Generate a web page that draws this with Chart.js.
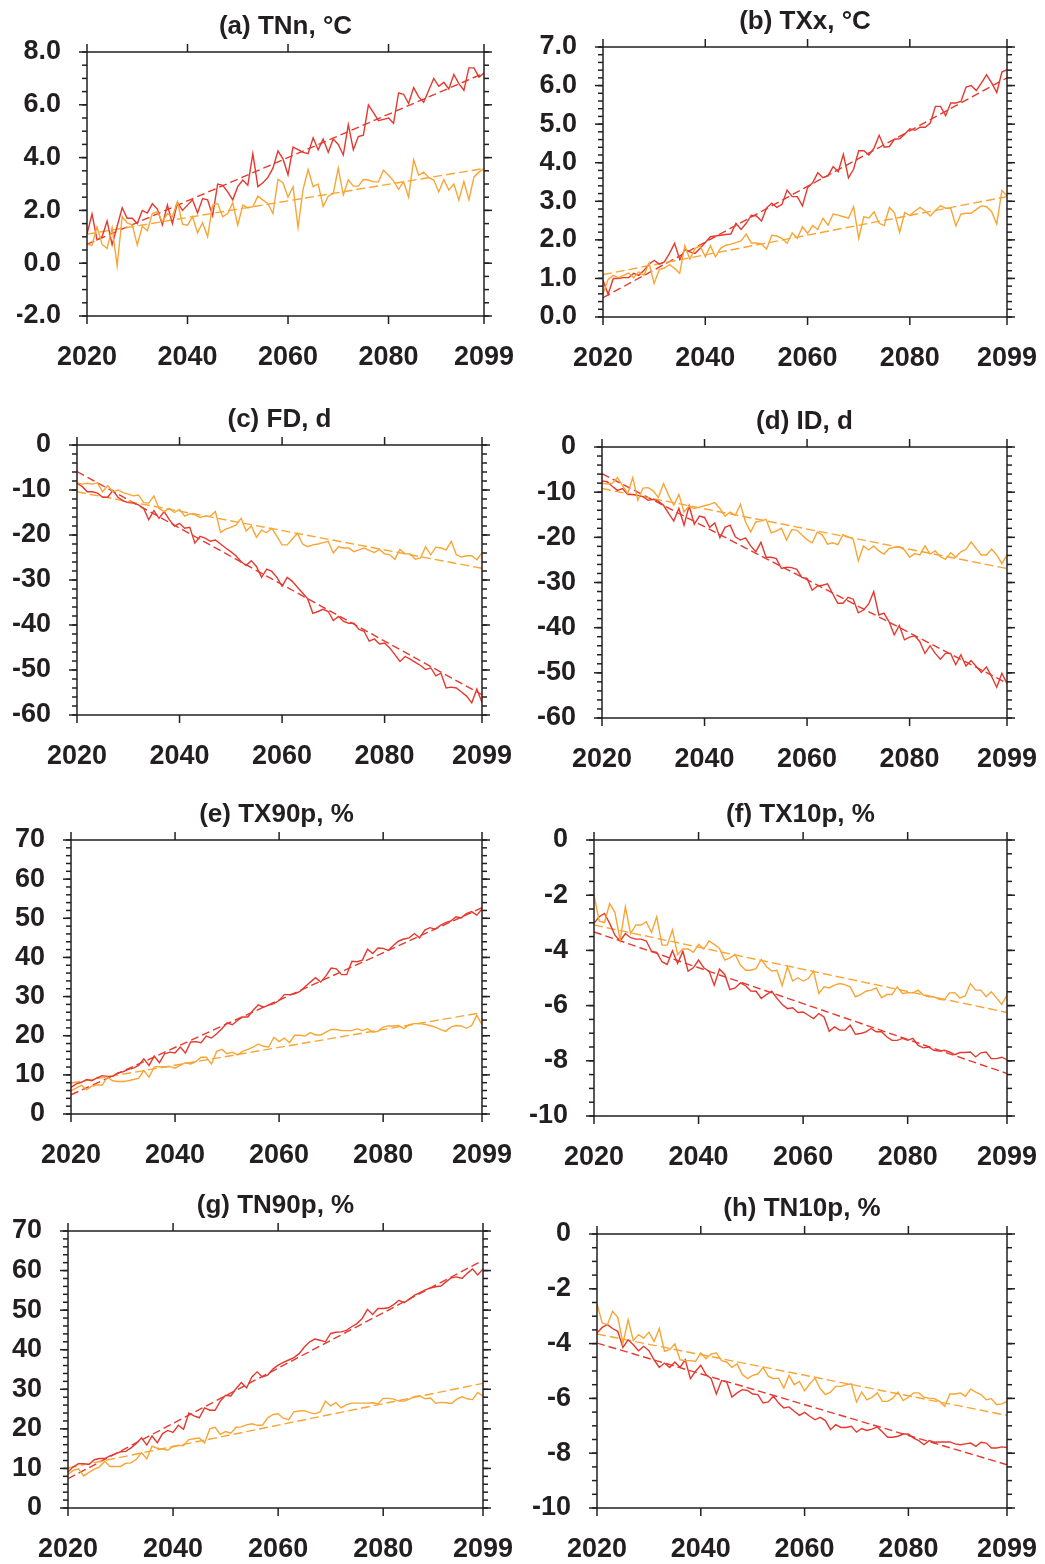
<!DOCTYPE html>
<html>
<head>
<meta charset="utf-8">
<script src="https://cdn.jsdelivr.net/npm/chart.js@4.4.1/dist/chart.umd.min.js"></script>
<style>
  html, body { margin: 0; padding: 0; background: #ffffff; }
  body { width: 1045px; height: 1564px; position: relative; overflow: hidden; }
  .panel { position: absolute; }
  canvas { display: block; }
</style>
</head>
<body>
<div id="root"></div>
<script>
// ---------------- DATA ----------------
const years = [2020,2021,2022,2023,2024,2025,2026,2027,2028,2029,
  2030,2031,2032,2033,2034,2035,2036,2037,2038,2039,
  2040,2041,2042,2043,2044,2045,2046,2047,2048,2049,
  2050,2051,2052,2053,2054,2055,2056,2057,2058,2059,
  2060,2061,2062,2063,2064,2065,2066,2067,2068,2069,
  2070,2071,2072,2073,2074,2075,2076,2077,2078,2079,
  2080,2081,2082,2083,2084,2085,2086,2087,2088,2089,
  2090,2091,2092,2093,2094,2095,2096,2097,2098,2099];
const xTickValues = [2020, 2040, 2060, 2080, 2099];

const titles = ["(a) TNn, \u00B0C", "(b) TXx, \u00B0C", "(c) FD, d", "(d) ID, d",
                "(e) TX90p, %", "(f) TX10p, %", "(g) TN90p, %", "(h) TN10p, %"];

// (a) TNn
const aRed = [1.1,1.86,0.88,1.0,1.6,0.7,1.4,2.1,1.7,1.7,
  1.5,2.0,1.9,2.25,2.05,1.45,2.2,1.5,2.3,2.0,
  2.2,2.4,1.9,2.45,2.4,1.8,3.0,2.95,2.7,2.4,
  2.9,3.15,2.95,4.15,2.9,3.05,3.25,3.6,4.25,3.95,
  3.35,4.4,4.3,4.2,4.15,4.75,4.3,4.7,4.2,4.7,
  4.5,4.1,5.25,4.3,4.8,4.85,6.0,5.7,5.4,5.45,
  5.5,5.3,6.45,6.4,6.05,6.65,6.3,6.1,6.55,7.0,
  6.7,6.85,6.6,7.15,6.8,6.55,7.4,7.4,7.05,7.2];
const aOrange = [0.72,0.68,1.38,0.71,0.56,1.35,-0.1,1.76,1.53,1.45,
  0.69,1.4,1.23,1.88,1.95,1.57,1.88,1.76,2.33,1.48,
  1.44,1.76,1.15,1.53,1.0,2.2,2.26,1.76,1.88,2.29,
  1.44,2.2,2.1,2.14,2.54,2.39,2.26,1.88,3.17,3.05,
  2.5,2.9,1.35,2.8,3.55,2.9,3.0,2.15,2.54,2.64,
  3.6,2.58,3.15,2.92,2.92,3.17,3.15,3.08,3.08,3.52,
  3.33,3.12,2.8,3.08,2.5,3.92,3.33,3.45,3.24,3.15,
  2.7,3.17,2.77,3.0,2.39,3.1,2.4,3.27,3.45,3.58];
const aRedTrend = [0.72, 7.2];
const aOrangeTrend = [1.1, 3.59];
const aYTicks = [-2, 0, 2, 4, 6, 8];

// (b) TXx
const bRed = [0.95,0.59,1.0,1.0,1.02,1.02,1.13,1.08,1.21,1.37,
  1.47,1.37,1.43,1.65,1.91,1.49,1.75,1.69,1.65,1.78,
  1.93,2.08,2.1,2.12,2.14,2.15,2.43,2.27,2.43,2.64,
  2.62,2.49,2.83,2.95,2.84,2.92,3.29,3.12,3.12,2.88,
  3.35,3.48,3.74,3.61,3.66,3.9,3.77,4.22,3.61,3.83,
  4.31,4.31,4.2,4.38,4.71,4.4,4.42,4.61,4.62,4.74,
  4.88,4.84,4.92,4.92,5.03,5.46,5.46,5.22,5.55,5.55,
  5.59,5.96,6.0,5.87,6.07,6.28,6.07,5.82,6.35,6.41];
const bOrange = [0.6,0.97,1.08,1.02,1.08,1.14,1.02,1.17,1.08,1.4,
  0.87,1.23,1.27,1.36,1.26,1.13,1.85,1.5,1.78,1.84,
  1.56,1.85,1.56,1.78,1.86,1.89,1.93,1.97,2.15,1.92,
  1.92,1.89,1.76,2.12,2.1,2.04,1.91,2.18,2.04,2.34,
  2.17,2.37,2.27,2.56,2.38,2.67,2.64,2.6,2.56,2.86,
  2.04,2.6,2.57,2.73,2.43,2.37,2.84,2.7,2.19,2.71,
  2.63,2.75,2.84,2.75,2.62,2.76,2.89,2.82,2.82,2.36,
  2.67,2.69,2.69,2.79,2.88,2.86,2.73,2.41,3.28,3.14];
const bRedTrend = [0.5, 6.2];
const bOrangeTrend = [1.1, 3.12];
const bYTicks = [0, 1, 2, 3, 4, 5, 6, 7];

// (c) FD
const cRed = [-8.5,-9.2,-10.4,-10.4,-10.7,-11.6,-11.6,-10.1,-11.6,-12.4,
  -12.8,-12.9,-13.3,-14.1,-16.6,-14.6,-16.3,-14.8,-16.6,-18.0,
  -17.4,-18.5,-18.3,-21.8,-20.3,-20.7,-21.4,-21.1,-22.0,-22.9,
  -23.7,-24.6,-25.9,-26.8,-25.7,-27.0,-29.4,-27.6,-28.1,-29.4,
  -31.4,-29.4,-30.3,-31.6,-32.9,-34.2,-37.4,-37.0,-36.5,-37.0,
  -39.0,-38.1,-39.2,-39.6,-39.6,-41.0,-41.4,-43.6,-43.1,-44.2,
  -44.0,-45.1,-46.6,-48.1,-47.0,-47.6,-48.3,-49.0,-49.9,-49.5,
  -51.3,-50.7,-54.0,-53.8,-54.0,-54.9,-55.8,-57.3,-54.2,-57.2];
const cOrange = [-8.4,-8.7,-8.5,-8.7,-8.4,-10.4,-9.0,-10.4,-10.0,-10.6,
  -10.9,-11.3,-11.1,-12.8,-12.9,-11.3,-14.1,-14.8,-14.1,-15.0,
  -14.3,-15.8,-15.3,-15.5,-16.1,-15.8,-15.8,-14.8,-19.4,-18.7,
  -18.3,-17.8,-16.3,-19.1,-18.0,-20.5,-18.9,-19.5,-18.5,-20.3,
  -22.2,-22.2,-20.9,-19.6,-22.0,-22.6,-22.2,-22.0,-21.7,-21.4,
  -24.0,-22.6,-22.9,-22.9,-23.7,-23.3,-22.9,-23.4,-23.9,-23.2,
  -24.2,-24.4,-25.4,-23.2,-24.2,-24.2,-25.4,-25.1,-22.6,-24.4,
  -22.7,-22.9,-23.3,-21.4,-24.4,-24.9,-24.6,-24.6,-25.5,-23.9];
const cRedTrend = [-5.9, -55.5];
const cOrangeTrend = [-10.4, -27.4];
const cYTicks = [-60, -50, -40, -30, -20, -10, 0];

// (d) ID
const dRed = [-7.5,-7.7,-8.7,-9.6,-9.2,-10.5,-10.5,-10.7,-11.0,-11.8,
  -11.6,-12.0,-12.9,-14.7,-16.4,-13.6,-17.3,-13.0,-17.1,-15.3,
  -15.6,-17.8,-16.8,-20.1,-17.8,-17.3,-19.9,-20.6,-20.1,-21.9,
  -23.2,-21.1,-24.4,-24.4,-24.7,-26.9,-26.6,-26.7,-27.1,-28.9,
  -29.1,-31.7,-30.8,-30.6,-30.3,-32.5,-34.6,-34.6,-33.3,-33.7,
  -36.7,-36.1,-34.8,-32.0,-37.2,-36.8,-38.7,-41.6,-39.5,-42.7,
  -42.1,-41.8,-43.1,-45.7,-44.0,-45.7,-47.0,-45.7,-45.7,-48.2,
  -46.0,-48.5,-47.3,-48.6,-49.9,-48.7,-50.8,-53.2,-50.1,-52.4];
const dOrange = [-8.0,-8.2,-8.0,-6.8,-8.5,-10.3,-6.8,-11.8,-9.1,-9.0,
  -9.7,-11.2,-8.1,-10.7,-12.9,-10.5,-14.4,-13.1,-13.6,-13.3,
  -13.0,-12.7,-12.3,-13.6,-15.3,-14.4,-15.1,-12.7,-16.6,-18.8,
  -16.6,-16.4,-16.0,-19.0,-18.6,-18.0,-20.6,-18.3,-18.4,-19.5,
  -20.5,-21.2,-18.8,-19.5,-21.5,-21.2,-21.6,-19.4,-19.9,-20.4,
  -25.2,-21.9,-22.8,-21.9,-23.0,-23.7,-22.5,-22.2,-22.1,-22.8,
  -24.4,-23.6,-23.9,-21.9,-23.7,-23.0,-24.3,-24.9,-23.4,-24.4,
  -23.2,-22.7,-21.0,-22.5,-23.9,-23.9,-22.6,-23.9,-25.8,-23.9];
const dRedTrend = [-5.9, -52.3];
const dOrangeTrend = [-9.2, -26.9];
const dYTicks = [-60, -50, -40, -30, -20, -10, 0];

// (e) TX90p
const eRed = [6.8,7.7,8.1,8.8,8.5,9.2,9.8,9.6,9.6,10.5,
  10.8,11.4,11.7,12.4,14.1,12.4,14.8,13.1,15.4,15.8,
  15.6,17.1,15.6,18.4,18.5,18.2,19.9,19.4,20.5,21.8,
  23.3,22.8,23.9,24.8,24.8,26.5,27.9,27.3,27.8,28.2,
  29.0,30.5,30.5,30.7,31.3,32.5,33.7,34.8,33.7,35.3,
  37.3,37.1,35.6,35.6,39.0,38.9,39.3,42.1,41.0,42.4,
  42.3,41.8,43.1,44.2,44.7,45.0,46.1,45.0,47.0,47.6,
  47.2,48.2,48.9,49.3,50.4,50.1,51.2,51.7,50.8,52.3];
const eOrange = [6.0,6.6,7.3,6.2,7.1,7.4,7.4,9.4,8.5,8.3,
  8.3,8.5,8.8,9.1,11.1,9.4,12.0,12.1,12.0,12.1,
  11.7,12.4,13.1,12.8,13.4,14.5,14.5,12.8,16.0,16.5,
  15.4,15.8,15.1,16.0,16.5,17.1,17.9,17.3,17.1,19.6,
  18.5,19.4,18.2,20.1,20.1,19.9,20.8,20.2,20.2,20.9,
  21.6,21.6,21.3,21.3,21.3,21.8,21.3,21.8,20.9,21.1,
  22.2,22.5,22.5,22.6,21.8,22.8,23.1,23.1,22.9,22.6,
  22.2,21.6,21.1,22.2,22.6,22.5,21.9,22.6,25.2,22.8];
const eRedTrend = [4.9, 52.7];
const eOrangeTrend = [7.9, 25.9];
const eYTicks = [0, 10, 20, 30, 40, 50, 60, 70];

// (f) TX10p
const fRed = [-3.02,-2.78,-2.66,-3.02,-3.45,-3.66,-3.39,-3.54,-3.59,-3.59,
  -3.66,-4.03,-4.07,-4.41,-4.51,-4.01,-4.47,-4.03,-4.75,-4.63,
  -4.35,-4.63,-4.75,-5.26,-4.68,-4.87,-5.42,-5.36,-5.18,-5.28,
  -5.47,-5.48,-5.74,-5.6,-5.48,-5.74,-5.96,-6.11,-6.08,-6.25,
  -6.23,-6.35,-6.47,-6.29,-6.41,-6.93,-6.77,-6.89,-6.89,-6.71,
  -7.04,-7.01,-6.95,-6.83,-6.95,-6.95,-7.13,-7.26,-7.26,-7.19,
  -7.26,-7.19,-7.44,-7.53,-7.5,-7.62,-7.65,-7.62,-7.68,-7.78,
  -7.7,-7.7,-7.68,-7.86,-7.71,-7.68,-7.92,-7.92,-7.87,-7.96];
const fOrange = [-2.0,-2.94,-2.99,-2.3,-2.62,-3.63,-2.42,-3.39,-3.08,-3.08,
  -2.96,-3.35,-2.78,-3.81,-3.81,-3.26,-4.15,-3.95,-3.95,-4.07,
  -3.78,-3.95,-3.66,-3.78,-3.93,-4.35,-4.27,-4.15,-4.53,-4.72,
  -4.72,-4.66,-4.33,-4.59,-4.75,-4.72,-5.28,-4.59,-5.11,-4.99,
  -5.11,-5.02,-4.75,-5.56,-5.32,-5.36,-5.26,-5.2,-5.24,-5.32,
  -5.68,-5.6,-5.48,-5.44,-5.36,-5.72,-5.6,-5.6,-5.32,-5.56,
  -5.53,-5.54,-5.44,-5.62,-5.68,-5.68,-5.77,-5.8,-5.54,-5.53,
  -5.72,-5.65,-5.2,-5.44,-5.44,-5.68,-5.5,-5.72,-5.96,-5.62];
const fRedTrend = [-3.33, -8.46];
const fOrangeTrend = [-3.08, -6.25];
const fYTicks = [-10, -8, -6, -4, -2, 0];

// (g) TN90p
const gRed = [9.1,10.4,11.2,11.2,11.0,12.2,12.5,12.5,13.2,13.7,
  14.2,14.3,15.2,16.3,17.7,15.9,18.2,16.5,18.8,19.6,
  19.1,20.9,19.9,24.0,23.3,22.8,25.3,24.7,24.7,27.0,
  28.5,28.3,30.2,31.7,30.4,33.1,34.4,33.1,33.6,35.1,
  36.1,36.8,37.4,38.0,39.0,40.7,42.0,42.7,42.4,42.0,
  44.1,44.4,44.5,44.9,45.8,46.6,47.9,50.2,48.9,50.4,
  50.4,50.6,51.4,52.5,51.9,52.8,53.8,54.4,55.1,55.6,
  55.9,56.1,57.2,58.2,58.4,58.0,59.3,60.4,58.9,60.4];
const gOrange = [8.5,9.5,9.9,8.1,9.0,9.8,10.4,11.8,10.5,10.5,
  10.5,11.3,11.4,12.3,14.0,12.4,15.6,15.1,14.9,14.6,
  15.6,15.8,15.8,17.3,17.5,17.7,16.4,20.0,20.4,18.6,
  19.3,18.9,20.4,20.5,21.0,21.3,20.9,20.9,22.8,23.6,
  23.8,22.7,22.3,24.3,24.5,24.6,24.1,23.8,24.3,27.0,
  25.8,26.6,25.3,26.1,26.5,26.5,26.5,26.5,26.6,26.3,
  27.7,27.7,27.5,27.0,27.0,27.5,28.2,28.3,27.6,27.8,
  26.5,26.7,26.6,26.4,27.5,28.1,27.6,27.4,29.2,28.3];
const gRedTrend = [7.4, 62.6];
const gOrangeTrend = [10.1, 31.5];
const gYTicks = [0, 10, 20, 30, 40, 50, 60, 70];

// (h) TN10p
const hRed = [-3.61,-3.41,-3.31,-3.45,-3.55,-4.14,-3.86,-4.04,-4.26,-4.1,
  -4.26,-4.59,-4.87,-4.71,-4.87,-4.67,-4.87,-4.59,-5.28,-5.01,
  -4.79,-5.13,-5.28,-5.84,-5.35,-5.4,-5.95,-5.8,-5.68,-5.71,
  -5.84,-5.86,-6.17,-6.13,-5.92,-6.17,-6.35,-6.31,-6.47,-6.62,
  -6.51,-6.65,-6.78,-6.69,-6.81,-7.14,-6.96,-7.06,-7.06,-7.02,
  -7.23,-7.1,-7.17,-7.12,-7.04,-7.23,-7.42,-7.42,-7.38,-7.3,
  -7.3,-7.45,-7.54,-7.69,-7.54,-7.6,-7.59,-7.59,-7.59,-7.66,
  -7.69,-7.66,-7.63,-7.75,-7.6,-7.63,-7.81,-7.81,-7.77,-7.79];
const hOrange = [-2.55,-3.25,-3.31,-2.82,-3.04,-3.98,-3.13,-3.89,-3.67,-3.8,
  -3.58,-3.92,-3.45,-4.28,-4.22,-4.01,-4.59,-4.62,-4.62,-4.65,
  -4.34,-4.55,-4.38,-4.34,-4.62,-4.67,-4.87,-4.74,-5.13,-5.28,
  -5.16,-5.11,-4.87,-5.19,-5.28,-5.26,-5.62,-5.16,-5.5,-5.38,
  -5.72,-5.47,-5.26,-5.64,-5.86,-5.77,-5.56,-5.56,-5.5,-5.47,
  -6.13,-5.77,-6.05,-5.96,-5.8,-6.11,-6.11,-5.99,-5.77,-6.08,
  -5.96,-5.8,-5.8,-5.96,-5.99,-6.01,-6.11,-6.29,-5.84,-5.84,
  -5.8,-5.92,-5.66,-5.77,-5.86,-6.05,-6.01,-6.23,-6.2,-6.11];
const hRedTrend = [-3.98, -8.42];
const hOrangeTrend = [-3.65, -6.62];
const hYTicks = [-10, -8, -6, -4, -2, 0];

// ---------------- STYLE / LAYOUT ----------------
const RED = '#E5392F';
const ORANGE = '#F9A535';
const INK = '#231F20';
const FONT = "'Liberation Sans', Arial, Helvetica, sans-serif";
const YW = 70, XH = 60, RP = 40, TB = 46;
const TITLE_SIZE = 26, TITLE_TOP = 5;

// plot-area rectangles [left, top, right, bottom] in page pixels
const panels = [
  { rect: [87, 52, 484, 316],     red: aRed, orange: aOrange, rt: aRedTrend, ot: aOrangeTrend, yt: aYTicks, minor: 0.5, dec: 1 },
  { rect: [603, 47, 1007, 317],   red: bRed, orange: bOrange, rt: bRedTrend, ot: bOrangeTrend, yt: bYTicks, minor: 0.2, dec: 1 },
  { rect: [77, 445, 482, 715],    red: cRed, orange: cOrange, rt: cRedTrend, ot: cOrangeTrend, yt: cYTicks, minor: 2, dec: 0 },
  { rect: [602, 447, 1007, 718],  red: dRed, orange: dOrange, rt: dRedTrend, ot: dOrangeTrend, yt: dYTicks, minor: 2, dec: 0 },
  { rect: [71, 840, 482, 1114],   red: eRed, orange: eOrange, rt: eRedTrend, ot: eOrangeTrend, yt: eYTicks, minor: 2, dec: 0 },
  { rect: [594, 840, 1007, 1116], red: fRed, orange: fOrange, rt: fRedTrend, ot: fOrangeTrend, yt: fYTicks, minor: 0.5, dec: 0 },
  { rect: [68, 1231, 483, 1508],  red: gRed, orange: gOrange, rt: gRedTrend, ot: gOrangeTrend, yt: gYTicks, minor: 2, dec: 0 },
  { rect: [597, 1234, 1007, 1508],red: hRed, orange: hOrange, rt: hRedTrend, ot: hOrangeTrend, yt: hYTicks, minor: 0.5, dec: 0 }
];

const frameTicks = {
  id: 'frameTicks',
  afterDraw(chart, args, opts) {
    const { ctx, chartArea: a, scales } = chart;
    const x = scales.x, y = scales.y;
    ctx.save();
    ctx.strokeStyle = INK;
    ctx.lineWidth = 1.5;
    ctx.lineCap = 'butt';
    const seg = (x1, y1, x2, y2) => { ctx.beginPath(); ctx.moveTo(x1, y1); ctx.lineTo(x2, y2); ctx.stroke(); };
    ctx.strokeRect(a.left, a.top, a.right - a.left, a.bottom - a.top);
    for (const v of opts.xMajor) {
      const px = x.getPixelForValue(v);
      seg(px, a.bottom, px, a.bottom + 8);
      seg(px, a.top, px, a.top - 8);
    }
    const n = Math.round((opts.yMax - opts.yMin) / opts.minor);
    for (let i = 0; i <= n; i++) {
      const v = opts.yMin + i * opts.minor;
      const py = y.getPixelForValue(v);
      seg(a.left, py, a.left - 5, py);
      seg(a.right, py, a.right + 5, py);
    }
    for (const v of opts.yMajor) {
      const py = y.getPixelForValue(v);
      seg(a.left, py, a.left - 8, py);
      seg(a.right, py, a.right + 8, py);
    }
    ctx.restore();
  }
};

const root = document.getElementById('root');

panels.forEach((p, i) => {
  const [L, T, R, B] = p.rect;
  const w = YW + (R - L) + RP;
  const h = TB + (B - T) + XH;
  const div = document.createElement('div');
  div.className = 'panel';
  div.style.left = (L - YW) + 'px';
  div.style.top = (T - TB) + 'px';
  div.style.width = w + 'px';
  div.style.height = h + 'px';
  const cv = document.createElement('canvas');
  cv.width = w; cv.height = h;
  cv.style.width = w + 'px'; cv.style.height = h + 'px';
  div.appendChild(cv);
  root.appendChild(div);

  const yMin = Math.min(...p.yt), yMax = Math.max(...p.yt);
  const toPts = vals => years.map((yr, k) => ({ x: yr, y: vals[k] }));
  const trendPts = t => [{ x: years[0], y: t[0] }, { x: years[years.length - 1], y: t[1] }];
  const common = { pointRadius: 0, pointHoverRadius: 0, tension: 0, fill: false, borderWidth: 1.4 };

  new Chart(cv.getContext('2d'), {
    type: 'line',
    data: {
      datasets: [
        Object.assign({ data: toPts(p.orange), borderColor: ORANGE }, common),
        Object.assign({ data: toPts(p.red), borderColor: RED }, common),
        Object.assign({ data: trendPts(p.ot), borderColor: ORANGE, borderDash: [9, 4] }, common),
        Object.assign({ data: trendPts(p.rt), borderColor: RED, borderDash: [8, 4] }, common)
      ]
    },
    options: {
      responsive: false,
      animation: false,
      devicePixelRatio: 1,
      layout: { padding: { left: 0, right: RP, top: 0, bottom: 0 } },
      plugins: {
        legend: { display: false },
        tooltip: { enabled: false },
        title: {
          display: true,
          text: titles[i],
          fullSize: false,
          color: INK,
          font: { family: FONT, size: TITLE_SIZE, weight: 'bold', lineHeight: 1.2 },
          padding: { top: TITLE_TOP, bottom: TB - TITLE_SIZE * 1.2 - TITLE_TOP }
        },
        frameTicks: { xMajor: xTickValues, yMajor: p.yt, minor: p.minor, yMin: yMin, yMax: yMax }
      },
      scales: {
        x: {
          type: 'linear',
          min: years[0],
          max: years[years.length - 1],
          grid: { display: false, drawTicks: false },
          border: { display: false },
          afterBuildTicks: s => { s.ticks = xTickValues.map(v => ({ value: v })); },
          afterFit: s => { s.height = XH; s.paddingLeft = 0; s.paddingRight = 0; },
          ticks: {
            color: INK,
            font: { family: FONT, size: 27, weight: 'bold' },
            padding: 25,
            maxRotation: 0,
            autoSkip: false,
            callback: v => String(v)
          }
        },
        y: {
          type: 'linear',
          min: yMin,
          max: yMax,
          grid: { display: false, drawTicks: false },
          border: { display: false },
          afterBuildTicks: s => { s.ticks = p.yt.map(v => ({ value: v })); },
          afterFit: s => { s.width = YW; s.paddingTop = 0; s.paddingBottom = 0; },
          ticks: {
            color: INK,
            font: { family: FONT, size: 27, weight: 'bold' },
            padding: 26,
            autoSkip: false,
            callback: v => Number(v).toFixed(p.dec)
          }
        }
      }
    },
    plugins: [frameTicks]
  });
});
</script>
</body>
</html>
